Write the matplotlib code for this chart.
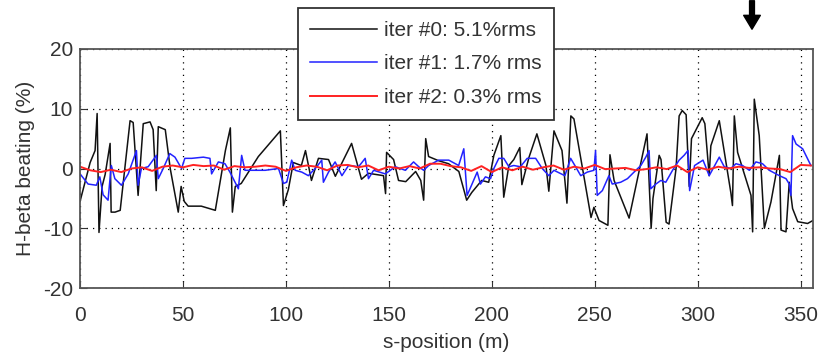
import matplotlib
matplotlib.use("Agg")
import matplotlib.pyplot as plt

plt.rcParams["font.family"] = ["Liberation Sans", "DejaVu Sans"]
plt.rcParams["axes.unicode_minus"] = False

# iter #0 (black) - s-position (m), beating (%)
s0 = [0, 4.9, 7.3, 8.3, 9.2, 10.7, 12.2, 14.6, 15.1, 17, 19.5, 24.3, 25.8, 28.2, 30.7,
      34, 35.5, 37, 38, 41.4, 43.8, 47.7, 49.1, 50.6, 52.5, 58.9, 65.7, 70.6, 73, 74,
      75.4, 78.3, 86.6, 97.3, 98.8, 101.2, 103.6, 107.5, 109.5, 112.4, 115.8, 120.7, 124,
      131.9, 136.7, 140.1, 147.4, 148.4, 148.9, 152.3, 154.7, 158.2, 163, 165.5, 166.9,
      167.9, 169.3, 174.2, 179, 184, 187.8, 190.3, 192.7, 195.1, 198.5, 201, 204.4, 205.8,
      208.3, 210.7, 213.6, 214.6, 218, 221.9, 226.3, 227.7, 230.2, 234.1, 235.5, 236.5,
      238.4, 239.9, 248.2, 249.6, 252.1, 256.4, 257.4, 259.4, 266.7, 275.4, 277.4, 278.3,
      281.3, 282.2, 284.7, 286.1, 289.5, 291, 292.5, 294.4, 295.9, 297, 302.2, 303.5,
      305.6, 306.4, 310.5, 316.1, 316.9, 317.8, 319.4, 325.9, 326.7, 327.5, 329.9, 332.4,
      335.6, 339.7, 340.5, 342.9, 344.5, 346.1, 348.6, 353.4, 356]
b0 = [-5.5, 1, 3, 9.2, -10.7, -3, -1, 4.2, -7.3, -7.3, -7, 8, 7.7, -4.5, 7.5,
      7.8, 6.5, -3.7, 7, 6.5, 0, -7.3, -3, -5.5, -6.3, -6.3, -7, 3, 6.8, -7.3,
      -3, -2.5, 2, 6.3, -6.2, -3.5, 1, 0.5, 3, -2, 1.7, 1.5, -1.3,
      4.2, -1.8, -0.8, -1.2, -4.2, 2.7, 1.5, -2, -2.2, -0.5, -2, -5.3,
      5, 2, 1.3, 0.8, -0.5, -5.3, -4, -3, -2, -2.3, 2.2, 5.5, -4.8,
      0.5, 1.5, 3.5, -2.7, 1.8, 5.8, 0.5, -3.8, 6.3, 3, -2, -5.8,
      8.8, 8.3, -8.2, -6.5, -8.7, -9.5, 2.3, -2, -8.3, 5.8, -10, -5,
      2.2, 1.5, -9, -9.3, 0, 8.8, 9.7, 9, -3, 5, 8.5, 7.5,
      -1.2, 3.8, 8, -4, -6.2, 8.8, 2.7, -4.5, -10.6, 11.6, 5.5, -10,
      -5.6, 2.2, -10.3, -10.6, -2.3, -6.7, -8.9, -9.2, -8.7]

# iter #1 (blue)
s1 = [0, 3.9, 7.9, 9.6, 11.2, 13.6, 14.4, 15.2, 16.9, 20.1, 23.4, 27.4, 28.2, 29.8, 33.1,
      37.1, 38, 40.4, 43.6, 46.1, 49.3, 50.9, 54.2, 59.9, 63.1, 63.9, 67.2, 70.4, 72.8,
      75.3, 76.9, 78.5, 80.1, 84.2, 89.9, 96.4, 98.8, 100.4, 102.8, 104.5, 107.7, 110.9,
      115, 117.4, 118.2, 120.7, 123.9, 127.2, 130.4, 135.3, 138.5, 140.1, 142.6, 148.3,
      153.1, 158, 162, 164.5, 166.9, 169.3, 174.2, 179.1, 183.9, 186.4, 188, 190.4, 192.9,
      194.5, 196.9, 199.4, 201, 203.4, 205.8, 208.3, 210.7, 213.9, 217.2, 221.3, 224.5,
      227.7, 230.2, 235.5, 238.3, 240.7, 243.2, 246.4, 249.6, 250.4, 251.2, 253.7, 256.9,
      258.5, 262.6, 265.9, 269.1, 272.4, 274.8, 276.4, 277.2, 279.7, 282.1, 284.5, 287.8,
      291, 293.4, 295.3, 296.1, 298.5, 302.6, 305.6, 310.5, 312.9, 316.1, 318.6, 321.8,
      325.1, 328.3, 331.5, 334.8, 339.7, 342.9, 344.5, 345.3, 346.1, 347.8, 351, 355]
b1 = [-0.9, -2.6, -2.8, -1.4, -4.4, -5.3, -2.3, 0.5, -1.7, -2.8, -0.9, 3, -2.8, 0, 0.3,
      2.2, -1.7, 0, 2.5, 1.9, 0, 1.7, 1.7, 1.9, 1.7, -0.9, 1.1, 0.8, -0.6,
      -2.3, -3.4, 2.2, -0.3, -0.3, -0.3, 0, -2.5, -2.3, 1.4, -0.3, -0.6, -1.2,
      0.3, 1.4, -2.3, -0.6, 1.1, -1.2, 0.5, 0.3, 1.7, -1.7, -0.3, -0.9,
      0.3, -0.3, 1.1, 0.3, -0.3, 0.5, 1.4, 1.4, 0.5, 3.3, -4.5, -2.6, -0.6,
      -2.6, -1.4, -1.7, 0, 1.7, 1.7, 0.3, 0.5, 0.3, 1.7, 1.7, 0,
      -1.2, -0.3, -1.2, 1.7, 0.3, -1.2, -0.6, -0.3, 3, -4.5, -3.7, -1.2,
      -2.6, -2.3, -1.7, -0.6, 0.5, 1.9, 3, -3.4, -2.6, -2, -2.3, -0.3,
      1.4, 2.2, 3, -3.7, 0.5, 1.4, -1.2, 1.9, 0.3, 0, 0.8, 0.5,
      -0.3, 1.1, 0.8, -0.3, -1.2, -1.7, -2.6, -4.5, 5.5, 4.1, 3.3, 0.5]

# iter #2 (red)
s2 = [0, 5, 10, 15, 20, 25, 30, 35, 40, 45, 50, 55, 60, 65, 70, 75, 80, 85, 90, 95,
      100, 105, 110, 115, 120, 125, 130, 135, 140, 145, 150, 155, 160, 165, 170, 175,
      180, 185, 190, 195, 200, 205, 210, 215, 220, 225, 230, 235, 240, 245, 250, 255,
      260, 265, 270, 275, 280, 285, 290, 295, 300, 305, 310, 315, 320, 325, 330, 335,
      340, 345, 350, 355]
b2 = [0.3, -0.3, -0.6, -0.2, -0.6, 0, 0.2, -0.4, 0.3, 0.5, 0.2, 0.6, 0.4, 0.5, -0.2,
      0.4, 0.2, 0.3, 0.5, 0.3, -0.4, 0.2, 0.5, 0.3, -0.3, 0.5, 0.6, 0.2, 0.5, -0.3,
      0.3, 0, 0.4, 0, 0.8, 0.8, 0.4, 0.2, -0.4, 0.4, -0.6, 0.2, -0.3, 0.3, -0.2,
      0.2, 0.5, -0.2, 0.3, 0, 0.6, -0.1, 0, 0.1, -0.3, -0.1, 0.2, -0.1, 0.5,
      -0.6, 0.2, -0.2, 0.3, 0, 0.3, 0.1, 0.2, 0, -0.1, -0.6, 0.6, 0.5]

labels = ["iter #0: 5.1%rms", "iter #1: 1.7% rms", "iter #2: 0.3% rms"]

fig = plt.figure(figsize=(8.21, 3.54), dpi=100)
ax = fig.add_axes([0.0975, 0.1864, 0.8927, 0.6752])

ax.plot(s0, b0, color="#111111", lw=1.1, label=labels[0])
ax.plot(s1, b1, color="#2222ff", lw=1.1, label=labels[1])
ax.plot(s2, b2, color="#ff2222", lw=1.4, label=labels[2])

ax.set_xlim(0, 356)
ax.set_ylim(-20, 20)
ax.set_xticks(range(0, 351, 50))
ax.set_yticks(range(-20, 21, 10))
ax.grid(True, color="black", linestyle=(0, (1, 4)), linewidth=0.9)
ax.tick_params(direction="in", labelsize=15, colors="#333333", length=5, pad=5)
ax.tick_params(axis="x", pad=13)
for sp in ax.spines.values():
    sp.set_color("#555555")
    sp.set_linewidth(1.3)

ax.set_xlabel("s-position (m)", fontsize=15, color="#333333", labelpad=6)
ax.set_ylabel("H-beta beating (%)", fontsize=15, color="#333333", labelpad=6)

leg = ax.legend(loc="upper left", bbox_to_anchor=(0.297, 1.17), fontsize=15,
                handlelength=3.2, handletextpad=0.35, frameon=True, fancybox=False,
                borderpad=0.6, borderaxespad=0, labelspacing=0.7, labelcolor="#333333")
leg.get_frame().set_edgecolor("#333333")
leg.get_frame().set_linewidth(1.3)
leg.get_frame().set_alpha(1)

# downward arrow at top right
ax.annotate("", xy=(752, 322), xytext=(752, 356), xycoords="figure pixels",
            textcoords="figure pixels",
            arrowprops=dict(arrowstyle="simple,head_width=1.2,head_length=1.0,tail_width=0.35",
                            color="black"))

fig.savefig("out.png", dpi=100)
